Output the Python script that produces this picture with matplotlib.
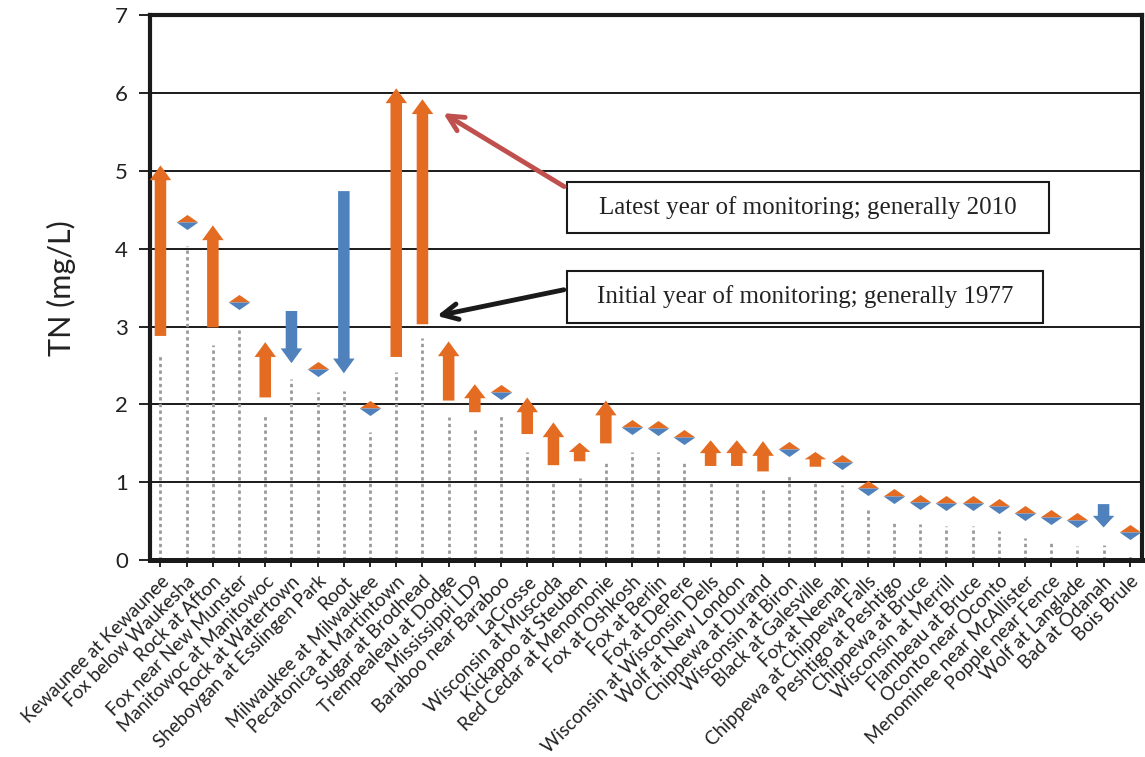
import matplotlib.pyplot as plt
from matplotlib.patches import Rectangle

sites = ["Kewaunee at Kewaunee", "Fox below Waukesha", "Rock at Afton", "Fox near New Munster",
         "Manitowoc at Manitowoc", "Rock at Watertown", "Sheboygan at Esslingen Park", "Root",
         "Milwaukee at Milwaukee", "Pecatonica at Martintown", "Sugar at Brodhead",
         "Trempealeau at Dodge", "Mississippi LD9", "Baraboo near Baraboo", "LaCrosse",
         "Wisconsin at Muscoda", "Kickapoo at Steuben", "Red Cedar at Menomonie", "Fox at Oshkosh",
         "Fox at Berlin", "Fox at DePere", "Wisconsin at Wisconsin Dells", "Wolf at New London",
         "Chippewa at Durand", "Wisconsin at Biron", "Black at Galesville", "Fox at Neenah",
         "Chippewa at Chippewa Falls", "Peshtigo at Peshtigo", "Chippewa at Bruce",
         "Wisconsin at Merrill", "Flambeau at Bruce", "Oconto near Oconto",
         "Menominee near McAllister", "Popple near Fence", "Wolf at Langlade", "Bad at Odanah",
         "Bois Brule"]

# initial / latest TN (mg/L); 'ns' = no significant trend (drawn as a diamond)
initial = [2.88, 4.34, 2.99, 3.31, 2.09, 3.20, 2.45, 4.74, 1.95, 2.61, 3.03, 2.05, 1.90, 2.16,
           1.62, 1.22, 1.27, 1.50, 1.71, 1.70, 1.58, 1.21, 1.21, 1.14, 1.43, 1.20, 1.26, 0.93,
           0.82, 0.75, 0.74, 0.74, 0.70, 0.61, 0.56, 0.52, 0.72, 0.36]
latest = [5.07, 4.34, 4.30, 3.31, 2.80, 2.53, 2.45, 2.40, 1.95, 6.06, 5.92, 2.81, 2.26, 2.16,
          2.09, 1.77, 1.51, 2.05, 1.71, 1.70, 1.58, 1.54, 1.54, 1.53, 1.43, 1.39, 1.26, 0.93,
          0.82, 0.75, 0.74, 0.74, 0.70, 0.61, 0.56, 0.52, 0.42, 0.36]
trend = ["up", "ns", "up", "ns", "up", "down", "ns", "down", "ns", "up", "up", "up", "up", "ns",
         "up", "up", "up", "up", "ns", "ns", "ns", "up", "up", "up", "ns", "up", "ns", "ns",
         "ns", "ns", "ns", "ns", "ns", "ns", "ns", "ns", "down", "ns"]
# height of the dotted reference lines
dotted = [2.65, 4.03, 2.76, 2.95, 1.88, 2.33, 2.16, 2.17, 1.65, 2.42, 2.85, 1.84, 1.69, 1.87,
          1.39, 1.00, 1.06, 1.29, 1.39, 1.39, 1.28, 1.02, 1.02, 0.94, 1.09, 1.00, 0.96, 0.64,
          0.49, 0.46, 0.44, 0.44, 0.38, 0.28, 0.26, 0.18, 0.19, 0.06]

orange = "#e46c22"
blue = "#4f81bd"

plt.rcParams['font.family'] = ['Lato', 'DejaVu Sans']

fig = plt.figure(figsize=(11.45, 7.57), dpi=100)
ax = fig.add_axes([0.131, 0.260, 0.866, 0.720])

x = list(range(len(sites)))

for y in range(1, 7):
    ax.axhline(y, color="#1a1a1a", lw=1.4, zorder=1)

ax.vlines(x, 0, dotted, colors="#9a9a9a", linestyles=(0, (1.2, 1.2)), lw=2, zorder=2)

top_tri = [(-1, 0), (1, 0), (0, 0.7), (-1, 0)]
bot_tri = [(-1, 0), (1, 0), (0, -0.7), (-1, 0)]
for i in x:
    if trend[i] == "ns":
        ax.plot(i, initial[i], marker=top_tri, ms=15.5, color=orange, mec="none", zorder=4)
        ax.plot(i, initial[i], marker=bot_tri, ms=15.5, color=blue, mec="none", zorder=4)
    else:
        dy = latest[i] - initial[i]
        hl = min(0.19, 0.5 * abs(dy))
        c = orange if trend[i] == "up" else blue
        ax.arrow(i, initial[i], 0, dy, width=0.44, head_width=0.82, head_length=hl,
                 length_includes_head=True, fc=c, ec="none", zorder=4)

# annotation boxes
ax.add_patch(Rectangle((15.5, 4.20), 18.4, 0.66, fc="white", ec="#1a1a1a", lw=1.5, zorder=5))
ax.text(15.5 + 9.2, 4.53, "Latest year of monitoring; generally 2010", ha="center", va="center",
        family="Liberation Serif", fontsize=18, color="#222222", zorder=6)
ax.add_patch(Rectangle((15.5, 3.04), 18.2, 0.68, fc="white", ec="#1a1a1a", lw=1.5, zorder=5))
ax.text(15.5 + 9.1, 3.38, "Initial year of monitoring; generally 1977", ha="center", va="center",
        family="Liberation Serif", fontsize=18, color="#222222", zorder=6)
ax.annotate("", xy=(10.7, 5.76), xytext=(15.5, 4.78),
            arrowprops=dict(arrowstyle="->", color="#c0504d", lw=3.5, mutation_scale=28), zorder=6)
ax.annotate("", xy=(10.45, 3.13), xytext=(15.5, 3.48),
            arrowprops=dict(arrowstyle="->", color="#1a1a1a", lw=3.5, mutation_scale=28), zorder=6)

ax.set_xlim(-0.4, 37.45)
ax.set_ylim(0, 7)
ax.set_yticks(range(0, 8))
ax.tick_params(axis="y", labelsize=16, length=8, width=1.4, pad=8, colors="#222222")
ax.set_xticks(x)
ax.set_xticklabels(sites, rotation=45, ha="right", va="top", rotation_mode="anchor",
                   fontsize=13.5, color="#222222")
ax.tick_params(axis="x", length=5, width=1.2, pad=4)
ax.set_ylabel("TN (mg/L)", fontsize=22, color="#222222", labelpad=28)

for side in ["left", "right", "top"]:
    ax.spines[side].set_linewidth(3)
ax.spines["bottom"].set_linewidth(3.6)
for s in ax.spines.values():
    s.set_color("#1a1a1a")

fig.savefig("out.png", dpi=100)
